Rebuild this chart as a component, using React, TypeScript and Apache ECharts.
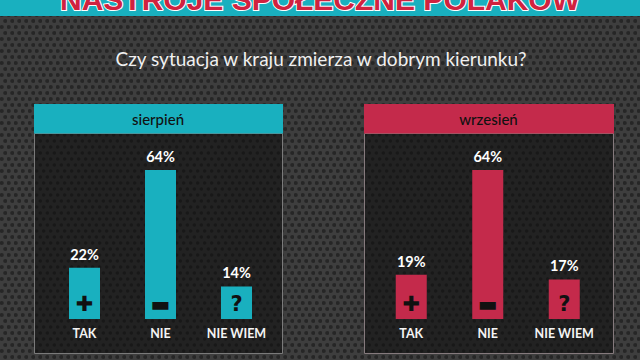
import React, { useEffect, useRef } from "react";
import * as echarts from "echarts";

const pageTitle = "NASTROJE SPOŁECZNE POLAKÓW";
const question = "Czy sytuacja w kraju zmierza w dobrym kierunku?";
const categories = ["TAK", "NIE", "NIE WIEM"];
const icons = ["✚", "▬", "?"];
const panelTitles = ["sierpień", "wrzesień"];
const augustValues = [22, 64, 14];
const septemberValues = [19, 64, 17];

const TEAL = "#19b0bf";
const RED = "#c42a4b";
const FONT = "Lato, 'Open Sans', sans-serif";

function dotPattern(bg: string, dot: string, r: number) {
  const svg =
    `<svg xmlns="http://www.w3.org/2000/svg" width="7" height="12">` +
    `<rect width="7" height="12" fill="${bg}"/>` +
    `<circle cx="1.75" cy="3" r="${r}" fill="${dot}"/>` +
    `<circle cx="5.25" cy="9" r="${r}" fill="${dot}"/></svg>`;
  return {
    image: "data:image/svg+xml;utf8," + encodeURIComponent(svg),
    repeat: "repeat",
    imageWidth: 7,
    imageHeight: 12,
  };
}

export default function App() {
  const ref = useRef<HTMLDivElement>(null);

  useEffect(() => {
    if (!ref.current) return;
    const chart = echarts.init(ref.current, null, { renderer: "svg" });

    const outer = dotPattern("#3e3e3e", "#262626", 2.1);
    const inner = dotPattern("#222222", "#181818", 1.8);

    const panels = [
      { x: 34, w: 248, color: TEAL, border: "#7a7a7a", title: panelTitles[0] },
      { x: 364, w: 249, color: RED, border: "#857a7d", title: panelTitles[1] },
    ];

    const graphic: any[] = [
      { type: "rect", shape: { x: 0, y: 0, width: 640, height: 360 }, style: { fill: outer as any }, z: -10 },
      { type: "rect", shape: { x: 0, y: 0, width: 640, height: 16 }, style: { fill: TEAL }, z: -5 },
      {
        type: "text",
        x: 320,
        y: 14,
        style: {
          text: pageTitle,
          textAlign: "center",
          textVerticalAlign: "bottom",
          font: "bold 30px 'Liberation Sans', sans-serif",
          fill: "#d0223f",
          stroke: "#ffffff",
          lineWidth: 2,
        },
        z: -4,
      },
      {
        type: "text",
        x: 321,
        y: 58,
        style: {
          text: question,
          textAlign: "center",
          textVerticalAlign: "middle",
          font: `19px ${FONT}`,
          fill: "#f0f0f0",
        },
        z: -4,
      },
    ];

    panels.forEach((p) => {
      graphic.push(
        {
          type: "rect",
          shape: { x: p.x + 0.5, y: 133.5, width: p.w, height: 220 },
          style: { fill: inner as any, stroke: p.border, lineWidth: 1 },
          z: -5,
        },
        { type: "rect", shape: { x: p.x, y: 104, width: p.w + 1, height: 29.5 }, style: { fill: p.color }, z: -4 },
        {
          type: "text",
          x: p.x + p.w / 2,
          y: 119,
          style: {
            text: p.title,
            textAlign: "center",
            textVerticalAlign: "middle",
            font: `500 15px ${FONT}`,
            fill: "#111111",
          },
          z: -3,
        }
      );
    });

    const grids = [
      { left: 46.5, top: 86.2, width: 228, height: 232.8 },
      { left: 373, top: 86.2, width: 229.5, height: 232.8 },
    ];

    const xAxis = grids.map((_, i) => ({
      type: "category",
      gridIndex: i,
      data: categories,
      axisLine: { show: false },
      axisTick: { show: false },
      axisLabel: {
        interval: 0,
        hideOverlap: false,
        color: "#f4f4f4",
        fontWeight: "bold",
        fontSize: 12.5,
        fontFamily: FONT,
        margin: 8,
      },
    }));
    const yAxis = grids.map((_, i) => ({
      type: "value",
      gridIndex: i,
      min: 0,
      max: 100,
      show: false,
    }));

    const datasets = [augustValues, septemberValues];
    const colors = [TEAL, RED];
    const series: any[] = [];
    datasets.forEach((vals, i) => {
      series.push({
        type: "bar",
        xAxisIndex: i,
        yAxisIndex: i,
        data: vals,
        barWidth: 31,
        itemStyle: { color: colors[i] },
        label: {
          show: true,
          position: "top",
          distance: 6,
          formatter: "{c}%",
          color: "#ffffff",
          fontSize: 14.5,
          fontWeight: "bold",
          fontFamily: FONT,
        },
      });
      series.push({
        type: "bar",
        xAxisIndex: i,
        yAxisIndex: i,
        data: vals,
        barWidth: 31,
        barGap: "-100%",
        silent: true,
        itemStyle: { color: "transparent" },
        label: {
          show: true,
          position: "insideBottom",
          distance: 5,
          formatter: (p: any) => icons[p.dataIndex],
          color: "#111111",
          fontSize: 21,
          fontWeight: "bold",
          fontFamily: "'DejaVu Sans', sans-serif",
        },
      });
    });

    chart.setOption({
      animation: false,
      backgroundColor: "#333333",
      graphic,
      grid: grids,
      xAxis,
      yAxis,
      series,
    });

    return () => chart.dispose();
  }, []);

  return <div ref={ref} style={{ width: 640, height: 360, position: "fixed", left: 0, top: 0 }} />;
}
